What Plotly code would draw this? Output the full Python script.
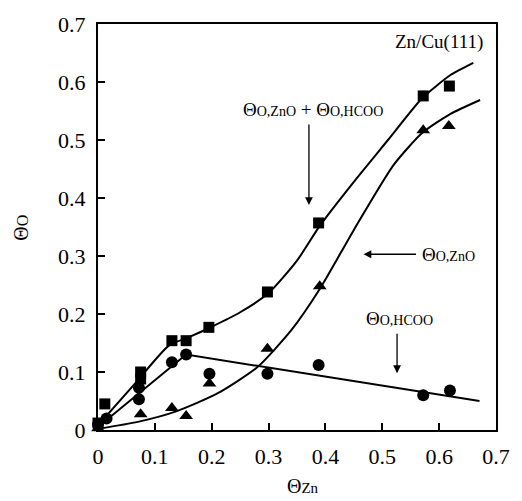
import plotly.graph_objects as go

# ---- data ----
sq_x = [0.0, 0.012, 0.075, 0.075, 0.13, 0.155, 0.195, 0.298, 0.388, 0.572, 0.618]
sq_y = [0.012, 0.045, 0.100, 0.088, 0.154, 0.154, 0.177, 0.238, 0.357, 0.576, 0.593]

ci_x = [0.0, 0.015, 0.072, 0.072, 0.13, 0.155, 0.196, 0.298, 0.388, 0.572, 0.619]
ci_y = [0.010, 0.020, 0.073, 0.053, 0.117, 0.130, 0.097, 0.097, 0.112, 0.060, 0.068]

tr_x = [0.0, 0.075, 0.13, 0.155, 0.196, 0.298, 0.39, 0.572, 0.617]
tr_y = [0.003, 0.027, 0.038, 0.024, 0.080, 0.140, 0.248, 0.517, 0.524]

# fitted curves
sum_x = [0.0, 0.065, 0.125, 0.16, 0.2, 0.25, 0.3, 0.35, 0.39, 0.45, 0.51, 0.57, 0.62, 0.66]
sum_y = [0.008, 0.080, 0.146, 0.160, 0.178, 0.203, 0.236, 0.292, 0.352, 0.428, 0.500, 0.572, 0.612, 0.633]

zno_x = [0.0, 0.07, 0.14, 0.21, 0.28, 0.34, 0.39, 0.45, 0.52, 0.57, 0.62, 0.672]
zno_y = [0.002, 0.014, 0.033, 0.063, 0.108, 0.172, 0.243, 0.345, 0.457, 0.512, 0.545, 0.569]

hcoo_x = [0.0, 0.155, 0.671]
hcoo_y = [0.005, 0.130, 0.050]

x_ticks = [0, 0.1, 0.2, 0.3, 0.4, 0.5, 0.6, 0.7]
y_ticks = [0, 0.1, 0.2, 0.3, 0.4, 0.5, 0.6, 0.7]
x_ticklabels = ["0", "0.1", "0.2", "0.3", "0.4", "0.5", "0.6", "0.7"]
y_ticklabels = ["0", "0.1", "0.2", "0.3", "0.4", "0.5", "0.6", "0.7"]

SERIF = "Liberation Serif"
LW = 2

fig = go.Figure()
fig.add_trace(go.Scatter(x=sum_x, y=sum_y, mode="lines",
                         line=dict(color="black", width=LW, shape="spline", smoothing=0.6),
                         hoverinfo="skip", cliponaxis=False))
fig.add_trace(go.Scatter(x=zno_x, y=zno_y, mode="lines",
                         line=dict(color="black", width=LW, shape="spline", smoothing=0.6),
                         hoverinfo="skip", cliponaxis=False))
fig.add_trace(go.Scatter(x=hcoo_x, y=hcoo_y, mode="lines",
                         line=dict(color="black", width=LW),
                         hoverinfo="skip", cliponaxis=False))
fig.add_trace(go.Scatter(x=sq_x, y=sq_y, mode="markers",
                         marker=dict(symbol="square", size=11, color="black"), cliponaxis=False))
fig.add_trace(go.Scatter(x=ci_x, y=ci_y, mode="markers",
                         marker=dict(symbol="circle", size=12, color="black"), cliponaxis=False))
fig.add_trace(go.Scatter(x=tr_x, y=tr_y, mode="markers",
                         marker=dict(symbol="triangle-up", size=12, color="black"), cliponaxis=False))

axis_common = dict(showgrid=False, zeroline=False, showline=True, linecolor="black", linewidth=2,
                   mirror=True, ticks="inside", ticklen=7, tickwidth=1.5, tickcolor="black",
                   tickfont=dict(family=SERIF, size=22, color="black"),
                   range=[0, 0.7])

fig.update_xaxes(tickvals=x_ticks, ticktext=x_ticklabels, ticklabelstandoff=6, **axis_common)
fig.update_yaxes(tickvals=y_ticks, ticktext=y_ticklabels, ticklabelstandoff=6, **axis_common)

def theta(sub, big=19, small=14):
    return f"<span style='font-size:{big}px'>Θ</span><span style='font-size:{small}px'>{sub}</span>"

ann = []
# labels
ann.append(dict(x=0.379, y=0.553, text=theta("O,ZnO") + "<span style='font-size:19px'> + </span>" + theta("O,HCOO"),
                showarrow=False, xanchor="center", yanchor="middle"))
ann.append(dict(x=0.567, y=0.303, text=theta("O,ZnO"), showarrow=False, xanchor="left", yanchor="middle"))
ann.append(dict(x=0.531, y=0.193, text=theta("O,HCOO"), showarrow=False, xanchor="center", yanchor="middle"))
ann.append(dict(x=0.60, y=0.669, text="Zn/Cu(111)", showarrow=False, xanchor="center", yanchor="middle",
                font=dict(family=SERIF, size=19, color="black")))
# arrows
ann.append(dict(x=0.371, y=0.388, ax=0, ay=-82, text="", showarrow=True, arrowhead=2,
                arrowsize=1.2, arrowwidth=1.3, arrowcolor="black"))
ann.append(dict(x=0.467, y=0.303, ax=54, ay=0, text="", showarrow=True, arrowhead=2,
                arrowsize=1.2, arrowwidth=1.3, arrowcolor="black"))
ann.append(dict(x=0.526, y=0.098, ax=0, ay=-41, text="", showarrow=True, arrowhead=2,
                arrowsize=1.2, arrowwidth=1.3, arrowcolor="black"))
# axis titles (paper coordinates)
ann.append(dict(xref="paper", yref="paper", x=0.515, y=-0.138, text=theta("Zn", 20, 15), showarrow=False,
                xanchor="center", yanchor="middle"))
ann.append(dict(xref="paper", yref="paper", x=-0.192, y=0.497, text=theta("O", 20, 16), showarrow=False,
                textangle=-90, xanchor="center", yanchor="middle"))

fig.update_layout(
    width=522, height=501,
    margin=dict(l=98, r=18, t=24, b=71, pad=0),
    paper_bgcolor="white", plot_bgcolor="white",
    showlegend=False,
    font=dict(family=SERIF, color="black"),
    annotations=ann,
)

fig.write_html("out.html")
